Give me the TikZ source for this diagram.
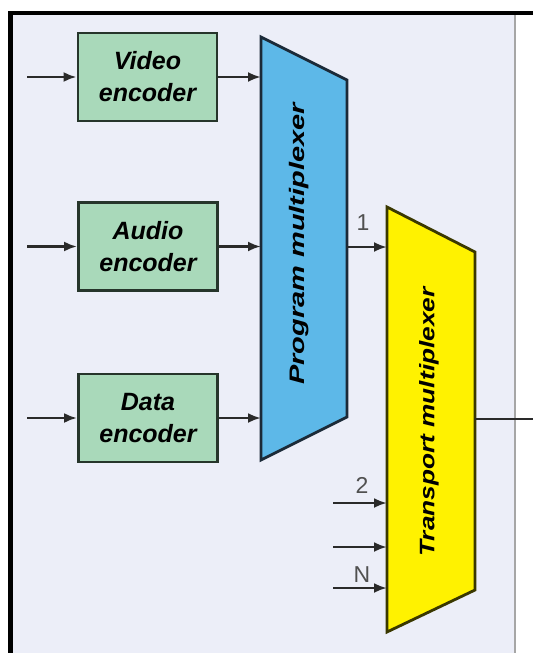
\documentclass[tikz,border=0pt]{standalone}
\usepackage{fontspec}
\setmainfont{Liberation Sans}
\usetikzlibrary{arrows.meta}
\definecolor{panel}{HTML}{ECEEF8}
\definecolor{encfill}{HTML}{A9D9BA}
\definecolor{encdraw}{HTML}{26352B}
\definecolor{pmfill}{HTML}{5DB8E8}
\definecolor{pmdraw}{HTML}{1B2A38}
\definecolor{tmfill}{HTML}{FFF200}
\definecolor{tmdraw}{HTML}{3A3800}
\definecolor{wire}{HTML}{2A2A2A}
\definecolor{lbl}{HTML}{505050}
\tikzset{
  encbox/.style={draw=encdraw, line width=2.8pt, fill=encfill, minimum width=139pt, minimum height=88pt,
    inner sep=0pt, align=center, font=\fontsize{25}{32}\selectfont\bfseries\itshape},
  wirearrow/.style={draw=wire, line width=2.6pt, -{Latex[length=13pt,width=10pt]}},
  plainwire/.style={draw=wire, line width=2.6pt},
  numlabel/.style={text=lbl, font=\fontsize{23}{23}\selectfont, inner sep=0pt},
  muxtext/.style={rotate=90, inner sep=0pt, font=\fontsize{21}{21}\selectfont\bfseries\itshape}
}
\begin{document}
\begin{tikzpicture}[x=1pt,y=-1pt]
\useasboundingbox (0,0) rectangle (533,653);
% background
\fill[white] (0,0) rectangle (533,653);
\fill[panel] (13,15) rectangle (515,653);
\draw[gray!70, line width=1.5pt] (515,15) -- (515,653);
\fill[black] (8,11) rectangle (533,15);
\fill[black] (8,11) rectangle (13,653);

% encoders
\node[encbox] (video) at (147.5,77) {Video\\encoder};
\node[encbox] (audio) at (148,246.5) {Audio\\encoder};
\node[encbox] (data) at (148,418) {Data\\encoder};

% program multiplexer
\draw[fill=pmfill, draw=pmdraw, line width=2.8pt, line join=miter]
  (261,37) -- (347,80) -- (347,417) -- (261,460) -- cycle;
\node[muxtext] (pmlabel) at (299,244) {\scalebox{1.38}[1]{Program multiplexer}};
\coordinate (pmin1) at (261,77);
\coordinate (pmin2) at (261,246.5);
\coordinate (pmin3) at (261,418);
\coordinate (pmout) at (347,247);

% transport multiplexer
\draw[fill=tmfill, draw=tmdraw, line width=2.8pt, line join=miter]
  (387,207) -- (475,252) -- (475,590) -- (387,632) -- cycle;
\node[muxtext] (tmlabel) at (429,422) {\scalebox{1.25}[1]{Transport multiplexer}};
\coordinate (tmin1) at (387,247);
\coordinate (tmin2) at (387,503);
\coordinate (tmin3) at (387,547);
\coordinate (tmin4) at (387,588);
\coordinate (tmout) at (475,419);

% free ends
\coordinate (srcv) at (27,77);
\coordinate (srca) at (27,246.5);
\coordinate (srcd) at (27,418);
\coordinate (src2) at (333,503);
\coordinate (src3) at (333,547);
\coordinate (srcn) at (333,588);
\coordinate (sink) at (533,419);

% connectors
\draw[wirearrow] (srcv) -- (video.west);
\draw[wirearrow] (srca) -- (audio.west);
\draw[wirearrow] (srcd) -- (data.west);
\draw[wirearrow] (video.east) -- (pmin1);
\draw[wirearrow] (audio.east) -- (pmin2);
\draw[wirearrow] (data.east) -- (pmin3);
\draw[wirearrow] (pmout) -- (tmin1);
\draw[wirearrow] (src2) -- (tmin2);
\draw[wirearrow] (src3) -- (tmin3);
\draw[wirearrow] (srcn) -- (tmin4);
\draw[plainwire] (tmout) -- (sink);

% labels
\node[numlabel] (l1) at (363,223) {1};
\node[numlabel] (l2) at (362,485) {2};
\node[numlabel] (ln) at (362,575) {N};
\end{tikzpicture}
\end{document}
